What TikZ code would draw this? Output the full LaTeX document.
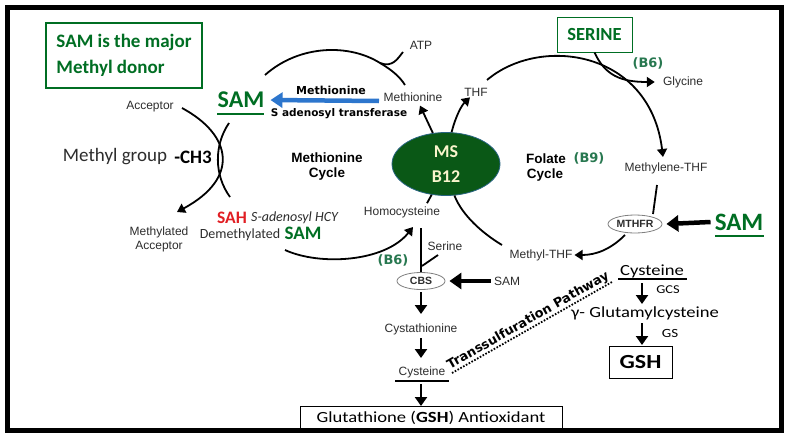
\documentclass[tikz,border=0pt]{standalone}
\usepackage{fontspec}
\setmainfont{Liberation Sans}
\newfontfamily\calf{Carlito}
\newfontfamily\calw[FakeStretch=1.2]{Carlito}
\newfontfamily\verd{DejaVu Sans}
\usetikzlibrary{arrows.meta,shapes.geometric}
\definecolor{dgreen}{RGB}{0,110,35}
\definecolor{egreen}{RGB}{10,88,22}
\definecolor{ablue}{RGB}{45,118,205}
\definecolor{ared}{RGB}{225,30,35}
\definecolor{tgray}{RGB}{45,45,45}
\definecolor{cream}{RGB}{250,245,205}
\definecolor{vgreen}{RGB}{40,120,80}
\tikzset{
  lbl/.style={font=\fontsize{12}{12}\selectfont, text=tgray, inner sep=0pt},
  ln/.style={line width=1.8pt},
  arrc/.style={line width=1.8pt, -{Triangle[length=8pt,width=10pt]}},
  arrv/.style={line width=2.2pt, -{Triangle[length=9pt,width=12pt]}},
  fatarr/.style={line width=4.5pt, -{Triangle[length=12pt,width=16pt]}},
  cyc/.style={font=\bfseries\fontsize{13.5}{13.5}\selectfont, inner sep=0pt},
  vit/.style={font=\verd\bfseries\fontsize{13}{13}\selectfont, text=vgreen, inner sep=0pt},
  enz/.style={ellipse, draw=gray, line width=0.8pt, inner sep=0pt, font=\bfseries\fontsize{10.5}{10.5}\selectfont, text=tgray},
  calb/.style={font=\calw\fontsize{15.5}{15.5}\selectfont, inner sep=0pt}
}
\begin{document}
\begin{tikzpicture}[x=1pt,y=-1pt]
\useasboundingbox (0,0) rectangle (790,442);
\fill[white] (0,0) rectangle (790,442);
\draw[line width=5pt] (7,7) rectangle (781,430);

% title box
\node[draw=dgreen, line width=2pt, text=dgreen, minimum width=156pt, minimum height=65pt,
      font=\calf\bfseries\fontsize{19}{26}\selectfont, align=left] (title) at (124,55.5)
      {SAM is the major\\Methyl donor};

% methionine cycle texts
\node[font=\calf\bfseries\fontsize{24}{24}\selectfont, text=dgreen, inner sep=0pt] (samL) at (241,100) {SAM};
\draw[dgreen, line width=1.5pt] (217,114) -- (264,114);
\node[lbl] (metR) at (413,97) {Methionine};
\node[lbl] (atp) at (421,45) {ATP};
\node[font=\verd\bfseries\fontsize{11}{11}\selectfont, inner sep=0pt] (metB) at (331,90) {Methionine};
\node[font=\verd\bfseries\fontsize{10.5}{10.5}\selectfont, inner sep=0pt] (sat) at (339,114) {S adenosyl transferase};
\node[lbl] (acc) at (150,107) {Acceptor};
\node[font=\calf\fontsize{19}{19}\selectfont, text=tgray, inner sep=0pt] (mg) at (115,157) {Methyl group};
\node[font=\calf\bfseries\fontsize{19}{19}\selectfont, inner sep=0pt] (ch3) at (193,157) {-CH3};
\node[cyc] (mc1) at (327,158) {Methionine};
\node[cyc] (mc2) at (327,174) {Cycle};
\node[lbl, align=center, font=\fontsize{12}{14}\selectfont] (macc) at (159,239) {Methylated\\Acceptor};
\node[font=\calf\bfseries\fontsize{17.5}{17.5}\selectfont, text=ared, inner sep=0pt] (sah) at (232,218) {SAH};
\node[font=\calf\itshape\fontsize{14}{14}\selectfont, text=tgray, inner sep=0pt, anchor=west] (sahf) at (251,218) {S-adenosyl HCY};
\node[font=\calf\fontsize{14}{14}\selectfont, text=tgray, inner sep=0pt] (demeth) at (240,235) {Demethylated};
\node[font=\calf\bfseries\fontsize{19}{19}\selectfont, text=dgreen, inner sep=0pt] (samD) at (303,233) {SAM};
\node[lbl] (hcy) at (402,212) {Homocysteine};

% MS ellipse
\node[ellipse, fill=egreen, draw={rgb,255:red,40;green,100;blue,130}, line width=0.8pt,
      minimum width=108pt, minimum height=63pt, inner sep=0pt, text=cream,
      font=\calf\bfseries\fontsize{18}{25}\selectfont, align=center] (ms) at (446,164) {MS\\B12};

% folate cycle texts
\node[lbl] (thf) at (476,92) {THF};
\node[draw=dgreen, line width=1pt, minimum width=75pt, minimum height=35pt, inner sep=0pt,
      text=dgreen, font=\calf\bfseries\fontsize{18.5}{18.5}\selectfont] (serine) at (594.5,34.5) {SERINE};
\node[vit] (b6a) at (648,63) {(B6)};
\node[lbl] (gly) at (683,82) {Glycine};
\node[cyc] (fc1) at (546,159) {Folate};
\node[vit] (b9) at (589,158) {(B9)};
\node[cyc] (fc2) at (545,175) {Cycle};
\node[lbl] (mthf) at (666,168) {Methylene-THF};
\node[enz, minimum width=54pt, minimum height=18pt] (mthfr) at (635,224) {MTHFR};
\node[font=\calf\bfseries\fontsize{25}{25}\selectfont, text=dgreen, inner sep=0pt] (samR) at (739,222) {SAM};
\draw[dgreen, line width=1.5pt] (715,236) -- (764,236);
\node[lbl] (methylthf) at (541,255) {Methyl-THF};

% transsulfuration
\node[lbl] (ser) at (445,246) {Serine};
\node[vit] (b6b) at (393,260) {(B6)};
\node[enz, minimum width=48pt, minimum height=17pt] (cbs) at (421,281) {CBS};
\node[lbl] (samc) at (507,281) {SAM};
\node[lbl] (cysta) at (421,329) {Cystathionine};
\node[lbl] (cysL) at (422,372) {Cysteine};
\draw[line width=1.2pt] (395,381) -- (449,381);
\node[draw, line width=0.8pt, minimum width=262pt, minimum height=24pt, inner sep=0pt,
      font=\calw\fontsize{15.5}{15.5}\selectfont] (glut) at (431,418) {Glutathione (\textbf{GSH}) Antioxidant};

% right column
\node[calb] (cysR) at (652,271) {Cysteine};
\draw[line width=1.2pt] (618,279) -- (687,279);
\node[font=\calw\fontsize{12}{12}\selectfont, inner sep=0pt] (gcs) at (668,290) {GCS};
\node[calb] (glu) at (645,313) {γ- Glutamylcysteine};
\node[font=\calw\fontsize{12.5}{12.5}\selectfont, inner sep=0pt] (gs) at (670,333) {GS};
\node[draw, line width=0.8pt, minimum width=63pt, minimum height=32pt, inner sep=0pt,
      font=\calw\bfseries\fontsize{20}{20}\selectfont] (gsh) at (640.5,362) {GSH};

% coordinates
\coordinate (ta) at (265,75);
\coordinate (tj) at (380,63);
\coordinate (te) at (405,85);
\coordinate (tatp) at (403,52);
\coordinate (acs) at (182,108);
\coordinate (ace) at (177,212);
\coordinate (ss) at (229,123);
\coordinate (se) at (230,197);
\coordinate (bs) at (285,250);
\coordinate (be) at (413,227);
\coordinate (bls) at (379,101);
\coordinate (fs) at (487,80);
\coordinate (fe) at (663,157);
\coordinate (m1) at (657,185);
\coordinate (m2) at (653,214);
\coordinate (m3) at (625,235);
\coordinate (m4) at (502,245);
\coordinate (h1) at (421,228);
\coordinate (s1) at (438,255);
\coordinate (s2) at (422,266);
\coordinate (ts1) at (452,373);
\coordinate (ts2) at (612,282);
\coordinate (v1) at (421,292);
\coordinate (v2) at (421,314);
\coordinate (v3) at (421,338);
\coordinate (v4) at (421,358);
\coordinate (v5) at (421,384);
\coordinate (v6) at (421,406);
\coordinate (r1) at (642,283);
\coordinate (r2) at (642,304);
\coordinate (r3) at (642,323);
\coordinate (r4) at (642,345);

% methionine cycle connectors
\draw[ln] (ta) .. controls (300,44) and (350,44) .. (tj) .. controls (392,70) and (400,77) .. (te);
\draw[ln] (tj) .. controls (393,68) and (398,58) .. (tatp);
\draw[ablue, line width=4.5pt, -{Triangle[length=12pt,width=15pt]}] (bls) -- ([xshift=6pt]samL.east);
\draw[arrc] (acs) .. controls (232,135) and (240,178) .. (ace);
\draw[ln] (ss) .. controls (214,145) and (214,175) .. (se);
\draw[arrc] (bs) .. controls (320,266) and (385,262) .. (be);
\draw[arrc] (ms.113) -- ([xshift=7pt,yshift=-4pt]metR.south);
\draw[arrc] (ms.80) .. controls (456,115) and (462,105) .. ([xshift=-6pt,yshift=-1pt]thf.south);
\draw[ln] (ms.-115) -- ([xshift=25pt,yshift=3pt]hcy.north);

% folate cycle connectors
\draw[arrc] (fs) .. controls (540,35) and (650,50) .. (fe);
\draw[arrc] (serine.south) .. controls (605,75) and (620,82) .. ([xshift=-8pt]gly.west);
\draw[ln] (m1) -- (m2);
\draw[arrc] (m3) .. controls (610,250) and (595,255) .. ([xshift=2pt]methylthf.east);
\draw[ln] (m4) .. controls (482,233) and (462,215) .. (ms.-75);
\draw[fatarr] ([xshift=-4pt]samR.west) -- ([xshift=4pt]mthfr.east);

% transsulfuration connectors
\draw[ln] (h1) -- (cbs.north);
\draw[ln] (s1) -- (s2);
\draw[fatarr] ([xshift=-3pt]samc.west) -- ([xshift=4pt]cbs.east);
\draw[arrv] (v1) -- (v2);
\draw[arrv] (v3) -- (v4);
\draw[arrv] (v5) -- (v6);
\draw[line width=1.8pt, dash pattern=on 1.6pt off 1.6pt] (ts1) -- node[midway, sloped, above=0.5pt, inner sep=0pt,
      font=\verd\bfseries\fontsize{12.8}{12.8}\selectfont] (tsl) {Transsulfuration Pathway} (ts2);
\draw[arrv] (r1) -- (r2);
\draw[arrv] (r3) -- (r4);
\end{tikzpicture}
\end{document}
